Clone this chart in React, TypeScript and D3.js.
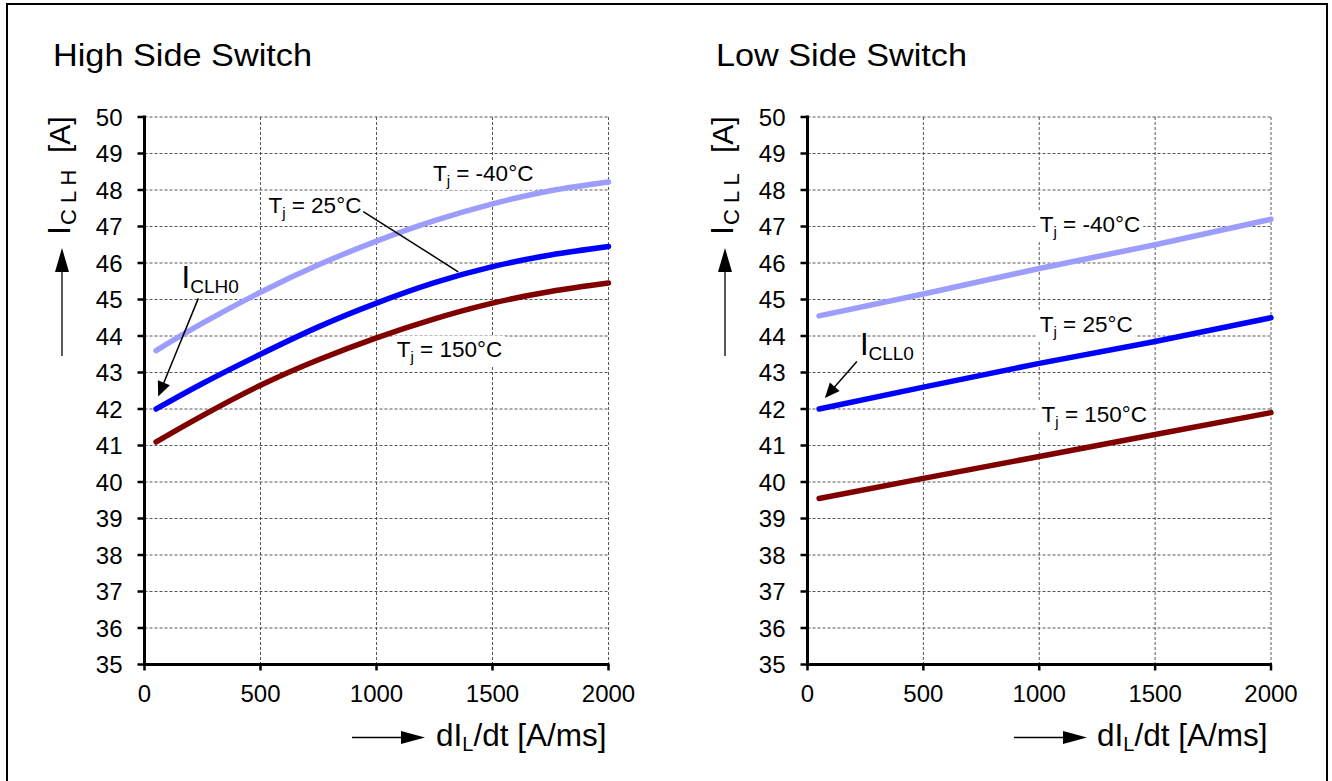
import React, { useEffect, useRef } from 'react';
import * as d3 from 'd3';

const W = 1332;
const H = 781;
const FONT = "'Liberation Sans', Arial, Helvetica, sans-serif";

// ---- tick labels ----
const xTickValues = [0, 500, 1000, 1500, 2000];
const yTickValues = [35, 36, 37, 38, 39, 40, 41, 42, 43, 44, 45, 46, 47, 48, 49, 50];

// ---- High side switch (dIL/dt in A/ms, current in A) ----
const highX = [50, 250, 500, 750, 1000, 1250, 1500, 1750, 2000];
const highM40 = [43.6, 44.35, 45.2, 45.95, 46.6, 47.16, 47.62, 47.98, 48.22];
const high25 = [42.0, 42.7, 43.5, 44.25, 44.9, 45.46, 45.9, 46.22, 46.45];
const high150 = [41.1, 41.82, 42.65, 43.35, 43.95, 44.47, 44.9, 45.22, 45.45];

// ---- Low side switch ----
const lowX = [50, 500, 1000, 1500, 2000];
const lowM40 = [44.55, 45.15, 45.85, 46.5, 47.2];
const low25 = [42.0, 42.6, 43.25, 43.85, 44.5];
const low150 = [39.55, 40.1, 40.7, 41.3, 41.9];

const seriesNames = ['-40°C', '25°C', '150°C'];
const seriesColors = ['#9d9dff', '#0000ff', '#800000'];

type Ann = { label: string; x: number; y: number };

const panels = [
  {
    title: 'High Side Switch',
    titleX: 53,
    titleLen: 259,
    axisX0: 144.5,
    axisX1: 608.5,
    sub: 'C L H',
    curve: 'smooth',
    xs: highX,
    series: [highM40, high25, high150],
    labels: [
      { label: '-40°C', x: 1243, y: 48.25 },
      { label: '25°C', x: 534, y: 47.36 },
      { label: '150°C', x: 1087, y: 43.43 },
    ] as Ann[],
    leader: [ [943, 47.41], [1352, 45.76] ],
    i0: { sub: 'CLH0', x: 160, y: 45.31 },
    i0Arrow: [ [232, 45.03], [59, 42.34] ],
    xArrowStart: 352,
    xTextStart: 436,
  },
  {
    title: 'Low Side Switch',
    titleX: 716,
    titleLen: 251,
    axisX0: 807.5,
    axisX1: 1271,
    sub: 'C L L',
    curve: 'linear',
    xs: lowX,
    series: [lowM40, low25, low150],
    labels: [
      { label: '-40°C', x: 1002, y: 46.86 },
      { label: '25°C', x: 1002, y: 44.12 },
      { label: '150°C', x: 1010, y: 41.65 },
    ] as Ann[],
    leader: null as any,
    i0: { sub: 'CLL0', x: 226, y: 43.48 },
    i0Arrow: [ [213, 43.3], [75, 42.3] ],
    xArrowStart: 1014,
    xTextStart: 1097,
  },
];

export default function App() {
  const ref = useRef<SVGSVGElement | null>(null);

  useEffect(() => {
    const svg = d3.select(ref.current);
    svg.selectAll('*').remove();

    // outer border
    svg.append('rect')
      .attr('x', 7).attr('y', 4)
      .attr('width', 1320).attr('height', 800)
      .attr('fill', 'none').attr('stroke', '#000').attr('stroke-width', 2);

    panels.forEach((p) => {
      const x = d3.scaleLinear().domain([0, 2000]).range([p.axisX0, p.axisX1]);
      const y = d3.scaleLinear().domain([35, 50]).range([664.5, 117]);
      const g = svg.append('g');

      // title
      g.append('text')
        .attr('x', p.titleX).attr('y', 66)
        .attr('font-family', FONT).attr('font-size', 32)
        .attr('textLength', p.titleLen).attr('lengthAdjust', 'spacingAndGlyphs')
        .text(p.title);

      // grid
      const grid = g.append('g').attr('stroke', '#444').attr('stroke-width', 0.9)
        .attr('stroke-dasharray', '3,2');
      yTickValues.filter((v) => v > 35).forEach((v) => {
        grid.append('line')
          .attr('x1', x(0)).attr('x2', x(2000))
          .attr('y1', y(v)).attr('y2', y(v));
      });
      xTickValues.filter((v) => v > 0).forEach((v) => {
        grid.append('line')
          .attr('x1', x(v)).attr('x2', x(v))
          .attr('y1', y(50)).attr('y2', y(35));
      });

      // curves
      p.series.forEach((vals, i) => {
        const pts: [number, number][] = p.xs.map((xv, k) => [xv, vals[k]]);
        const line = d3.line<[number, number]>()
          .x((d) => x(d[0])).y((d) => y(d[1]))
          .curve(p.curve === 'smooth' ? d3.curveNatural : d3.curveLinear);
        g.append('path')
          .attr('d', line(pts) as string)
          .attr('fill', 'none')
          .attr('stroke', seriesColors[i])
          .attr('stroke-width', 5.5)
          .attr('stroke-linecap', 'round')
          .attr('stroke-linejoin', 'round');
      });

      // axes
      g.append('line')
        .attr('x1', x(0)).attr('x2', x(0))
        .attr('y1', y(50) - 1.5).attr('y2', y(35) + 1.5)
        .attr('stroke', '#000').attr('stroke-width', 3);
      g.append('line')
        .attr('x1', x(0) - 1.5).attr('x2', x(2000) + 1)
        .attr('y1', y(35)).attr('y2', y(35))
        .attr('stroke', '#000').attr('stroke-width', 3);
      yTickValues.forEach((v) => {
        g.append('line')
          .attr('x1', x(0) - 7).attr('x2', x(0))
          .attr('y1', y(v)).attr('y2', y(v))
          .attr('stroke', '#000').attr('stroke-width', 2.5);
        g.append('text')
          .attr('x', x(0) - 22).attr('y', y(v) + 8.5)
          .attr('text-anchor', 'end')
          .attr('font-family', FONT).attr('font-size', 24)
          .text(String(v));
      });
      xTickValues.forEach((v) => {
        g.append('line')
          .attr('x1', x(v)).attr('x2', x(v))
          .attr('y1', y(35)).attr('y2', y(35) + 6)
          .attr('stroke', '#000').attr('stroke-width', 2.5);
        g.append('text')
          .attr('x', x(v)).attr('y', 702)
          .attr('text-anchor', 'middle')
          .attr('font-family', FONT).attr('font-size', 24)
          .text(String(v));
      });

      // y-axis label (rotated)
      const lx = p.axisX0 - 74.5;
      const yl = g.append('text')
        .attr('transform', `translate(${lx},235) rotate(-90)`)
        .attr('font-family', FONT).attr('font-size', 32);
      yl.append('tspan').text('I');
      yl.append('tspan').attr('font-size', 22).attr('dy', 6).attr('dx', 1)
        .text(p.sub);
      g.append('text')
        .attr('transform', `translate(${lx},153) rotate(-90)`)
        .attr('font-family', FONT).attr('font-size', 30)
        .text('[A]');
      // y arrow
      const ax = p.axisX0 - 82.5;
      g.append('line')
        .attr('x1', ax).attr('x2', ax).attr('y1', 356).attr('y2', 268)
        .attr('stroke', '#000').attr('stroke-width', 1.3);
      g.append('path')
        .attr('d', `M${ax},248 L${ax - 7},272 L${ax + 7},272 Z`)
        .attr('fill', '#000');

      // x-axis label
      const xa0 = p.xArrowStart;
      g.append('line')
        .attr('x1', xa0).attr('x2', xa0 + 52).attr('y1', 737.5).attr('y2', 737.5)
        .attr('stroke', '#000').attr('stroke-width', 1.3);
      g.append('path')
        .attr('d', `M${xa0 + 73},737.5 L${xa0 + 49},731 L${xa0 + 49},744 Z`)
        .attr('fill', '#000');
      const xl = g.append('text')
        .attr('x', p.xTextStart).attr('y', 746)
        .attr('font-family', FONT).attr('font-size', 31.5);
      xl.append('tspan').text('dI');
      xl.append('tspan').attr('font-size', 20).attr('dy', 5).text('L');
      xl.append('tspan').attr('dy', -5).text('/dt [A/ms]');

      // series labels with white background
      p.labels.forEach((a) => {
        const lg = g.append('g');
        const bg = lg.append('rect').attr('fill', '#fff');
        const t = lg.append('text')
          .attr('x', x(a.x)).attr('y', y(a.y))
          .attr('font-family', FONT).attr('font-size', 22.5);
        t.append('tspan').text('T');
        t.append('tspan').attr('font-size', 15).attr('dy', 5).text('j');
        t.append('tspan').attr('dy', -5).text(` = ${a.label}`);
        const bb = (t.node() as SVGTextElement).getBBox();
        bg.attr('x', bb.x - 4).attr('y', bb.y - 1)
          .attr('width', bb.width + 7).attr('height', bb.height + 2);
      });

      if (p.leader) {
        g.append('line')
          .attr('x1', x(p.leader[0][0])).attr('y1', y(p.leader[0][1]))
          .attr('x2', x(p.leader[1][0])).attr('y2', y(p.leader[1][1]))
          .attr('stroke', '#000').attr('stroke-width', 1.5);
      }

      // I_CL?0 label + arrow
      const it = g.append('text')
        .attr('x', x(p.i0.x)).attr('y', y(p.i0.y))
        .attr('font-family', FONT).attr('font-size', 31);
      it.append('tspan').text('I');
      it.append('tspan').attr('font-size', 19).attr('dy', 5).text(p.i0.sub);

      const [s, e] = p.i0Arrow;
      const x1 = x(s[0]), y1 = y(s[1]), x2 = x(e[0]), y2 = y(e[1]);
      const dx = x2 - x1, dy = y2 - y1;
      const len = Math.hypot(dx, dy);
      const ux = dx / len, uy = dy / len;
      const hl = 15, hw = 6.5;
      const bx = x2 - ux * hl, by = y2 - uy * hl;
      g.append('line')
        .attr('x1', x1).attr('y1', y1).attr('x2', bx + ux * 2).attr('y2', by + uy * 2)
        .attr('stroke', '#000').attr('stroke-width', 1.5);
      g.append('path')
        .attr('d', `M${x2},${y2} L${bx - uy * hw},${by + ux * hw} L${bx + uy * hw},${by - ux * hw} Z`)
        .attr('fill', '#000');
    });
  }, []);

  return (
    <svg
      ref={ref}
      width={W}
      height={H}
      viewBox={`0 0 ${W} ${H}`}
      style={{ position: 'absolute', left: 0, top: 0, background: '#fff', display: 'block' }}
      aria-label={seriesNames.join(', ')}
    />
  );
}
